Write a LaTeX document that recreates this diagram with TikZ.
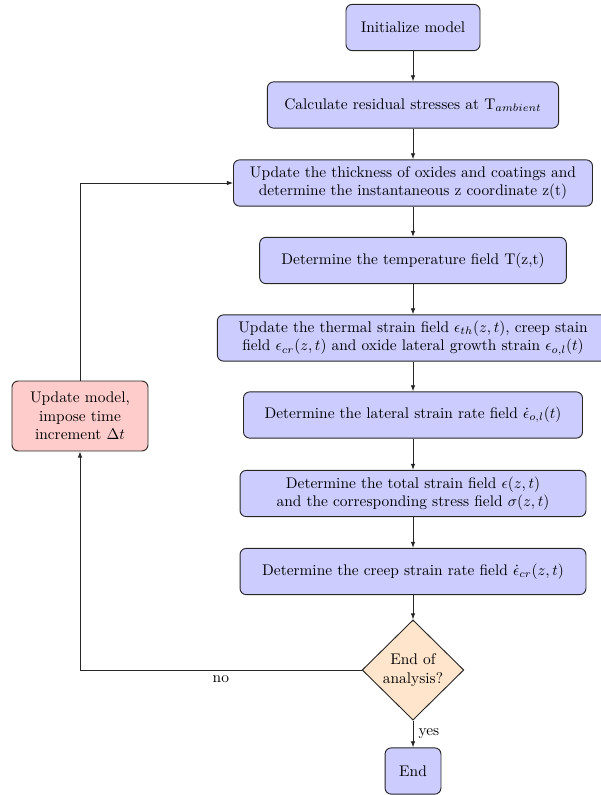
\documentclass[tikz,border=0pt]{standalone}
\usetikzlibrary{shapes.geometric,arrows.meta}
\begin{document}
\begin{tikzpicture}[x=0.649pt,y=-0.649pt,
  box/.style={draw=black!85,line width=0.6pt,rounded corners=4pt,fill=blue!20,align=center,minimum height=30pt,inner sep=2pt},
  redbox/.style={box,fill=red!20},
  decision/.style={diamond,draw=black!85,line width=0.6pt,fill=orange!20,align=center,inner sep=0pt,minimum width=66pt,minimum height=65pt},
  arr/.style={-{Latex[length=4pt,width=3pt]},line width=0.6pt,draw=black!85}]
\useasboundingbox (0,0) rectangle (600,795);
\node[box,minimum width=87pt] (b1) at (413,27.5) {Initialize model};
\node[box,minimum width=189pt] (b2) at (413,105) {Calculate residual stresses at T$_{ambient}$};
\node[box,minimum width=233pt] (b3) at (413,183) {Update the thickness of oxides and coatings and\\determine the instantaneous z coordinate z(t)};
\node[box,minimum width=199pt] (b4) at (413,260.5) {Determine the temperature field T(z,t)};
\node[box,minimum width=254pt] (b5) at (413,338) {Update the thermal strain field $\epsilon_{th}(z,t)$, creep stain\\field $\epsilon_{cr}(z,t)$ and oxide lateral growth strain $\epsilon_{o,l}(t)$};
\node[box,minimum width=220pt] (b6) at (413,415) {Determine the lateral strain rate field $\dot{\epsilon}_{o,l}(t)$};
\node[box,minimum width=224.5pt] (b7) at (413,493.5) {Determine the total strain field $\epsilon(z,t)$\\and the corresponding stress field $\sigma(z,t)$};
\node[box,minimum width=224.5pt] (b8) at (413,571.5) {Determine the creep strain rate field $\dot{\epsilon}_{cr}(z,t)$};
\node[decision] (dec) at (413,670) {End of\\analysis?};
\node[box,minimum width=36.3pt] (end) at (413,771) {End};
\node[redbox,minimum width=88.3pt,minimum height=45.4pt] (upd) at (80,416) {Update model,\\impose time\\increment $\Delta t$};
\draw[arr] (b1) -- (b2);
\draw[arr] (b2) -- (b3);
\draw[arr] (b3) -- (b4);
\draw[arr] (b4) -- (b5);
\draw[arr] (b5) -- (b6);
\draw[arr] (b6) -- (b7);
\draw[arr] (b7) -- (b8);
\draw[arr] (b8) -- (dec);
\draw[arr] (dec) -- node[right,pos=0.5]{yes} (end);
\draw[arr] (dec.west) -| node[below,pos=0.25]{no} (upd.south);
\draw[arr] (upd.north) |- (b3.west);
\end{tikzpicture}
\end{document}
